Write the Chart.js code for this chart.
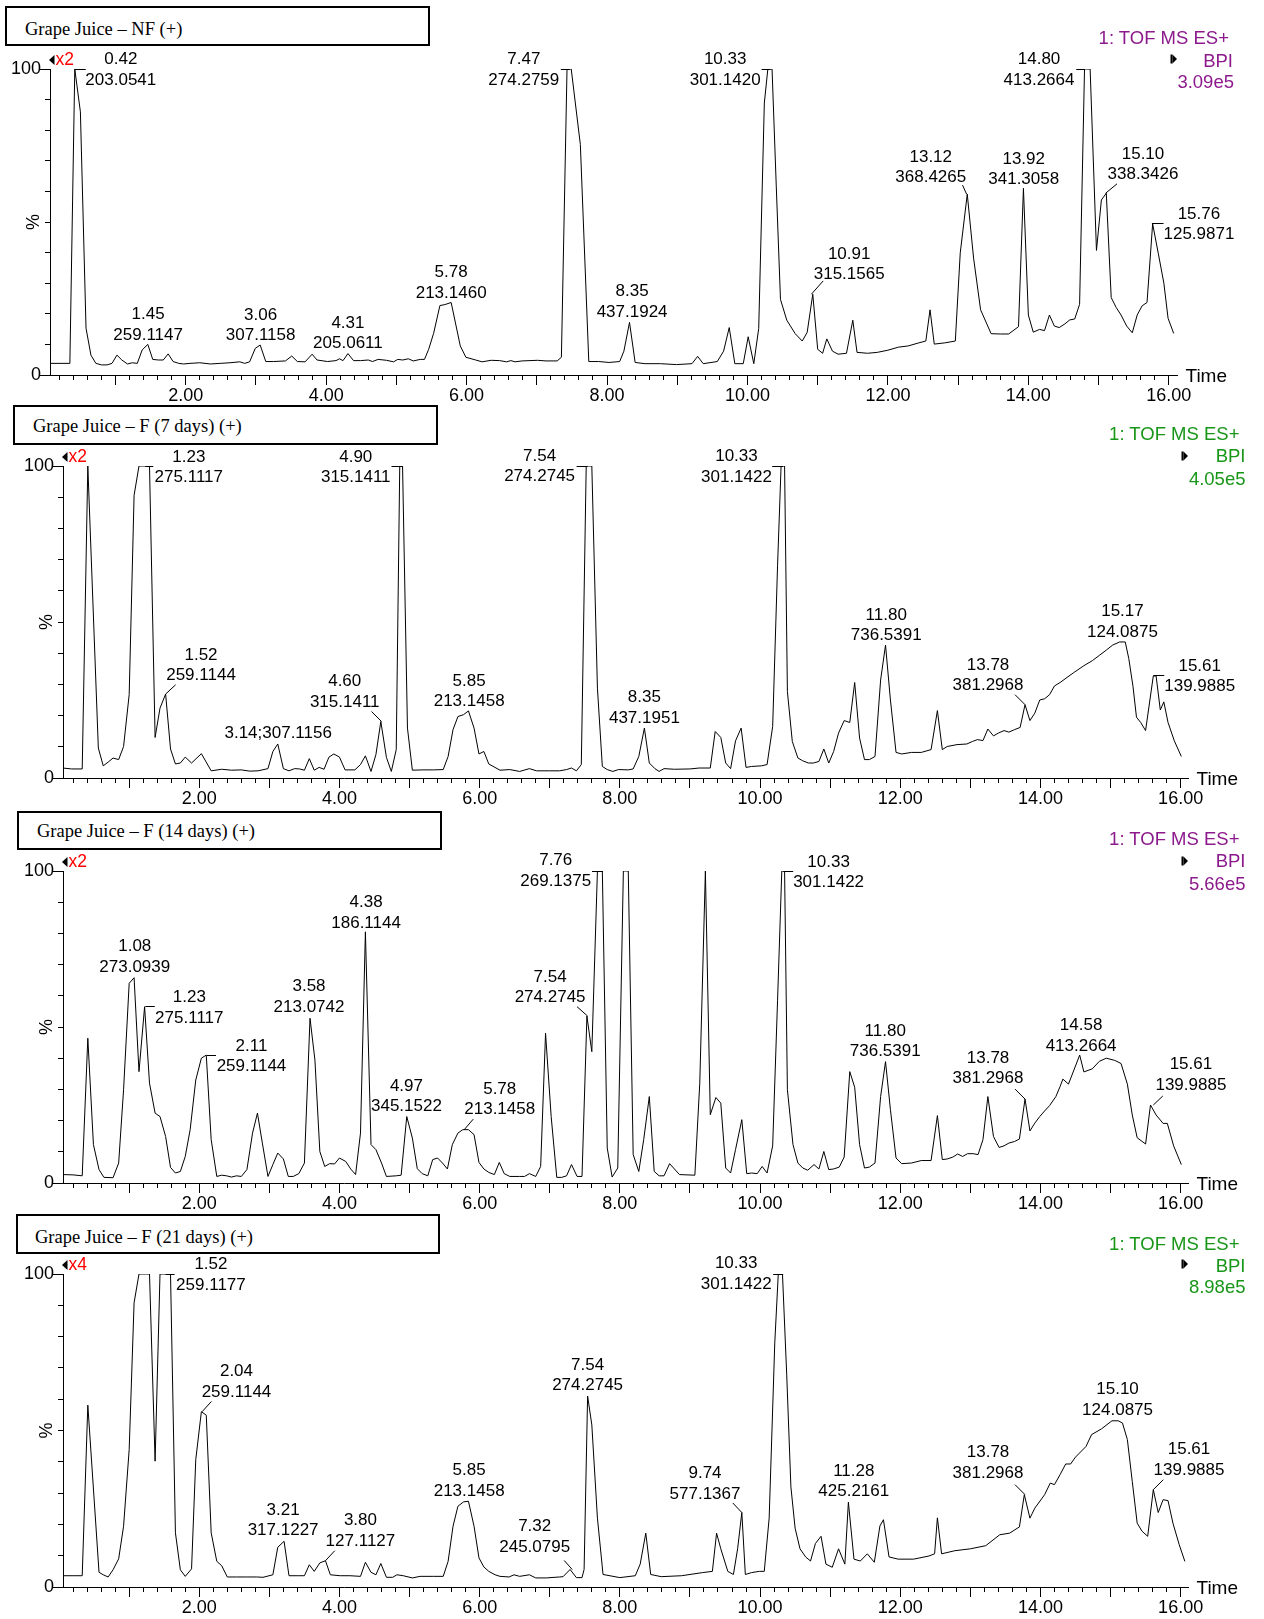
<!DOCTYPE html>
<html><head><meta charset="utf-8">
<script src="https://cdn.jsdelivr.net/npm/chart.js"></script>
<style>
html,body{margin:0;padding:0;background:#fff;}
body{width:1264px;height:1619px;position:relative;overflow:hidden;font-family:"Liberation Sans",Arial,sans-serif;}
canvas{position:absolute;left:0;}
.tbox{position:absolute;border:2px solid #000;box-sizing:border-box;background:#fff;font-family:"Liberation Serif","Times New Roman",serif;font-size:18.5px;color:#000;}
.tbox span{position:absolute;white-space:nowrap;line-height:20px;}
.rl{position:absolute;font-size:18.5px;line-height:21px;text-align:right;white-space:nowrap;}
.pu{color:#8c1a8c;}
.gr{color:#189618;}
</style></head><body>
<canvas id="c1" width="1264" height="415" style="top:0px"></canvas>
<canvas id="c2" width="1264" height="418" style="top:400px"></canvas>
<canvas id="c3" width="1264" height="418" style="top:805px"></canvas>
<canvas id="c4" width="1264" height="411" style="top:1208px"></canvas>

<div class="tbox" style="left:5px;top:6px;width:425px;height:40px"><span style="left:18px;top:11px">Grape Juice – NF (+)</span></div>
<div class="tbox" style="left:13px;top:405px;width:425px;height:40px"><span style="left:18px;top:9px">Grape Juice – F (7 days) (+)</span></div>
<div class="tbox" style="left:17px;top:811px;width:425px;height:39px"><span style="left:18px;top:8px">Grape Juice – F (14 days) (+)</span></div>
<div class="tbox" style="left:16px;top:1214px;width:424px;height:40px"><span style="left:17px;top:11px">Grape Juice – F (21 days) (+)</span></div>

<div class="rl pu" style="right:35px;top:27px">1: TOF MS ES+</div>
<div class="rl pu" style="right:31px;top:49.5px">BPI</div>
<div class="rl pu" style="right:30px;top:71px">3.09e5</div>

<div class="rl gr" style="right:24.5px;top:423px">1: TOF MS ES+</div>
<div class="rl gr" style="right:18.5px;top:445px">BPI</div>
<div class="rl gr" style="right:18.5px;top:467.5px">4.05e5</div>

<div class="rl pu" style="right:24.5px;top:828px">1: TOF MS ES+</div>
<div class="rl pu" style="right:18.5px;top:850px">BPI</div>
<div class="rl pu" style="right:18.5px;top:872.5px">5.66e5</div>

<div class="rl gr" style="right:24.5px;top:1233px">1: TOF MS ES+</div>
<div class="rl gr" style="right:18.5px;top:1254.5px">BPI</div>
<div class="rl gr" style="right:18.5px;top:1276px">8.98e5</div>

<script>
// ---------------- DATA ----------------
// Panel 1: Grape Juice – NF (+)
const nfTime = [
 0.07,0.35,0.42,0.50,0.58,0.65,0.72,0.80,0.88,0.95,
 1.02,1.09,1.17,1.24,1.31,1.38,1.46,1.53,1.61,1.68,
 1.75,1.82,1.90,1.97,2.06,2.20,2.35,2.49,2.63,2.77,
 2.84,2.91,2.99,3.06,3.14,3.25,3.42,3.51,3.59,3.70,
 3.80,3.87,4.02,4.14,4.19,4.24,4.31,4.39,4.49,4.60,
 4.66,4.74,4.86,4.96,5.02,5.09,5.17,5.24,5.34,5.40,
 5.46,5.53,5.62,5.69,5.78,5.91,5.99,6.13,6.22,6.35,
 6.47,6.57,6.63,6.69,6.79,7.01,7.13,7.29,7.35,7.43,
 7.49,7.62,7.74,7.88,8.03,8.18,8.24,8.32,8.40,8.54,
 8.76,8.99,9.21,9.29,9.37,9.57,9.66,9.74,9.82,9.94,
 10.01,10.09,10.16,10.24,10.29,10.35,10.41,10.47,10.56,10.68,
 10.78,10.85,10.93,11.00,11.07,11.13,11.21,11.29,11.41,11.50,
 11.56,11.71,11.85,12.00,12.15,12.29,12.44,12.54,12.60,12.66,
 12.81,12.96,13.03,13.13,13.22,13.32,13.47,13.60,13.72,13.86,
 13.93,14.00,14.07,14.16,14.23,14.30,14.37,14.44,14.52,14.59,
 14.66,14.73,14.80,14.88,14.97,15.04,15.11,15.18,15.25,15.32,
 15.40,15.48,15.55,15.62,15.69,15.77,15.85,15.93,15.99,16.07];
const nfValue = [
 3.8,3.8,100,86,15.3,6.5,3.8,3.3,3.3,3.8,
 6.5,4.9,3.6,4.0,3.8,8.2,10.0,5.1,4.9,4.9,
 6.9,4.4,3.8,3.6,3.8,4.0,3.6,3.8,4.0,4.3,
 3.8,4.3,8.7,9.8,4.4,4.4,4.6,6.2,4.4,4.3,
 6.8,4.9,4.4,4.7,5.3,4.7,7.0,4.7,4.7,4.9,
 4.4,5.1,4.8,4.3,5.1,4.9,5.3,4.6,5.1,5.1,
 8.4,13.6,22.7,23.0,23.7,9.5,5.8,4.9,4.3,4.8,
 4.7,4.3,4.7,4.3,4.6,4.8,4.6,4.6,5.8,100,
 100,75.3,4.4,4.4,4.1,4.4,7.8,17.2,4.1,3.7,
 3.7,3.4,3.7,6.1,3.7,4.4,7.8,15.5,3.7,3.7,
 12.5,3.7,15.2,88.9,100,100,61.8,24.7,17.9,13.5,
 11.1,13.9,26.4,8.4,7.1,11.8,7.8,6.8,7.1,17.9,
 7.4,7.1,7.4,8.1,9.1,9.5,10.5,11.1,21.3,10.1,
 10.5,11.1,39.9,59.1,38.2,21.3,13.5,13.4,13.4,15.8,
 61,19.6,14,14.9,14.5,19.6,16,15.5,16.7,18,
 18.3,23.1,100,100,40.7,57.2,59.4,25.3,22.1,19.6,
 16,13.8,19.6,22.6,23.7,49.4,39.8,30,18.5,13.6];
const nfPeakRT = ['0.42','1.45','3.06','4.31','5.78','7.47','8.35','10.33','10.91','13.12','13.92','14.80','15.10','15.76'];
const nfPeakMZ = ['203.0541','259.1147','307.1158','205.0611','213.1460','274.2759','437.1924','301.1420','315.1565','368.4265','341.3058','413.2664','338.3426','125.9871'];

// Panel 2: Grape Juice – F (7 days) (+)
const d7Time = [
 0.05,0.18,0.33,0.41,0.56,0.63,0.70,0.77,0.85,0.92,
 1.00,1.07,1.14,1.29,1.37,1.44,1.52,1.59,1.66,1.73,
 1.80,1.89,2.03,2.17,2.32,2.46,2.60,2.72,2.84,2.98,
 3.05,3.12,3.20,3.28,3.36,3.43,3.50,3.57,3.64,3.71,
 3.78,3.85,3.92,4.00,4.08,4.22,4.30,4.37,4.45,4.52,
 4.59,4.67,4.74,4.81,4.86,4.90,4.97,5.04,5.19,5.34,
 5.48,5.55,5.62,5.69,5.77,5.84,5.92,5.99,6.06,6.13,
 6.29,6.43,6.57,6.71,6.81,7.00,7.14,7.24,7.31,7.38,
 7.45,7.52,7.60,7.68,7.75,7.82,7.90,7.98,8.12,8.19,
 8.27,8.35,8.42,8.50,8.56,8.63,8.78,9.00,9.13,9.29,
 9.36,9.44,9.51,9.58,9.65,9.73,9.80,9.88,10.02,10.10,
 10.18,10.25,10.30,10.35,10.39,10.46,10.54,10.61,10.69,10.76,
 10.84,10.91,10.98,11.05,11.12,11.20,11.28,11.35,11.42,11.49,
 11.56,11.64,11.72,11.79,11.86,11.94,12.02,12.16,12.30,12.44,
 12.53,12.60,12.67,12.81,12.95,13.03,13.10,13.18,13.25,13.33,
 13.40,13.48,13.55,13.63,13.71,13.78,13.85,13.92,13.99,14.06,
 14.13,14.20,14.28,14.47,14.62,14.74,14.84,14.94,15.03,15.13,
 15.21,15.26,15.32,15.37,15.43,15.50,15.61,15.65,15.71,15.76,
 15.82,15.91,16.01];
const d7Value = [
 3.2,2.9,2.9,100,9.6,3.9,5.1,6.4,5.9,10.1,
 26.7,90.6,100,100,13,22.4,26.9,9.3,4.5,4.8,
 6.7,4.8,7.8,2.3,2.8,2.5,2.6,2.2,2.3,3.0,
 8.5,10.9,3.0,2.3,3.0,2.9,2.5,6.2,2.5,3.4,
 2.8,6.7,7.7,6.7,2.6,2.6,4.3,7.1,2.1,7.5,
 18.1,6.6,2.1,9.1,100,100,16,2.5,2.6,2.6,
 2.7,6.9,15.5,19.7,20.3,21.5,16,7.7,8.5,4.5,
 2.5,2.7,2.1,3.0,2.3,2.3,2.3,2.7,3.2,2.3,
 4.3,100,100,28.8,3.7,2.7,2.1,2.7,2.6,2.9,
 6.9,16,4.8,3.0,2.1,3.0,2.8,2.9,3.2,3.2,
 14.9,13,4.8,3.0,11.9,16,3.4,3.7,3.9,4.3,
 16.5,68.2,100,100,27.7,11.7,6.4,5.5,4.8,4.8,
 5.3,9.3,4.8,8.5,14.4,18.4,17.8,30.6,12.8,5.9,
 5.9,6.9,31.4,42.6,25,8.2,7.7,8.2,8.2,9.1,
 21.6,9.1,10.1,10.7,10.9,11.7,12.3,12,15.7,13.5,
 14.4,15.2,14.7,15.5,16.2,23.5,18.4,20.8,25,25.4,
 26.7,29.5,30.6,33.7,36,37.6,39.3,41,42.6,43.6,
 43.6,38.3,29.4,19.5,17.8,15.2,32.7,32.7,21.8,24.4,
 17.8,11.9,6.9];
const d7PeakRT = ['1.23','1.52','3.14;307.1156','4.60','4.90','5.85','7.54','8.35','10.33','11.80','13.78','15.17','15.61'];
const d7PeakMZ = ['275.1117','259.1144','','315.1411','315.1411','213.1458','274.2745','437.1951','301.1422','736.5391','381.2968','124.0875','139.9885'];

// Panel 3: Grape Juice – F (14 days) (+)
const d14Time = [
 0.05,0.20,0.33,0.41,0.49,0.57,0.64,0.77,0.85,0.92,
 1.00,1.07,1.14,1.22,1.29,1.37,1.44,1.52,1.59,1.66,
 1.73,1.80,1.87,1.95,2.03,2.10,2.17,2.25,2.32,2.39,
 2.46,2.53,2.60,2.68,2.76,2.83,2.90,2.98,3.05,3.12,
 3.20,3.27,3.34,3.42,3.50,3.58,3.65,3.72,3.79,3.86,
 3.93,4.00,4.09,4.16,4.23,4.30,4.37,4.45,4.52,4.60,
 4.67,4.81,4.88,4.96,5.04,5.11,5.18,5.26,5.33,5.40,
 5.47,5.54,5.61,5.69,5.76,5.84,5.92,5.99,6.06,6.13,
 6.21,6.28,6.35,6.43,6.57,6.64,6.71,6.80,6.87,6.94,
 7.02,7.10,7.17,7.24,7.31,7.39,7.46,7.53,7.60,7.68,
 7.75,7.82,7.89,7.97,8.05,8.12,8.19,8.27,8.34,8.42,
 8.49,8.56,8.63,8.71,8.85,9.07,9.14,9.22,9.29,9.37,
 9.44,9.51,9.58,9.65,9.74,9.81,9.88,9.96,10.03,10.10,
 10.18,10.25,10.31,10.35,10.39,10.47,10.54,10.61,10.68,10.77,
 10.84,10.91,10.98,11.05,11.13,11.20,11.28,11.35,11.42,11.49,
 11.56,11.64,11.72,11.79,11.86,11.94,12.02,12.16,12.30,12.44,
 12.53,12.60,12.67,12.75,12.82,12.89,12.96,13.04,13.11,13.18,
 13.25,13.33,13.41,13.48,13.55,13.63,13.70,13.78,13.85,13.92,
 13.99,14.06,14.13,14.22,14.28,14.32,14.40,14.56,14.62,14.74,
 14.84,14.94,15.06,15.15,15.24,15.31,15.38,15.50,15.57,15.65,
 15.75,15.81,15.90,16.01];
const d14Value = [
 2.7,2.6,2.3,46.4,12.3,4.3,1.8,1.7,6.4,29.9,
 64,65.8,35.7,56.5,32,22.4,21.3,14.9,5,3.2,
 3.7,8.5,17.1,33,40,41,13.9,2.1,2.5,2.3,
 1.9,2.3,2.1,4.3,16,22.4,12.8,2.1,5.9,9.6,
 7.7,2.1,2.1,3.0,6.4,52.8,39.4,10.1,5.3,6.2,
 6.1,8,6.9,4.5,2.7,16,80.5,12.3,10.7,6.4,
 2.1,2.3,2.5,21.3,14.4,4.6,3.0,2.3,7.5,8,
 6.4,4.5,12.3,16,17.1,17.1,15.5,6.6,4.5,3.4,
 2.7,6.6,3.0,2.1,2.1,2.1,3.0,2.1,5.3,48,
 21.3,1.8,1.8,2.3,5.9,2.1,2.1,53.5,42.1,100,
 100,11.2,1.9,4.8,100,100,9.1,3.7,13.9,27.7,
 3.7,2.3,2.3,6.2,2.7,2.5,32,100,21.9,27.4,
 25.6,4.8,3.2,10.7,20.3,3.0,3.2,3.0,5.3,3.2,
 11.9,58.6,100,100,29.9,12.3,6.4,4.8,4.1,5.9,
 4.5,10.1,4.3,4.5,5.1,8.3,35.7,30.7,12.3,4.8,
 5.1,6.4,27.7,38.9,23.5,8,6.2,6.4,7.2,7.2,
 21.6,7.5,7.7,8.3,9.3,8.5,9.4,9.4,9.1,13.9,
 27.7,14.9,11.4,11.9,12.8,13.3,14.1,26.9,16.7,19.2,
 21.3,23.1,24.8,27.7,30.9,33.3,31.7,41,35.6,36.6,
 39,40,39.3,38.3,31.7,21.8,14.5,12.5,25,21.8,
 19.1,19.1,11.9,5.9];
const d14PeakRT = ['1.08','1.23','2.11','3.58','4.38','4.97','5.78','7.54','7.76','10.33','11.80','13.78','14.58','15.61'];
const d14PeakMZ = ['273.0939','275.1117','259.1144','213.0742','186.1144','345.1522','213.1458','274.2745','269.1375','301.1422','736.5391','381.2968','413.2664','139.9885'];

// Panel 4: Grape Juice – F (21 days) (+)
const d21Time = [
 0.05,0.20,0.33,0.41,0.57,0.63,0.70,0.77,0.85,0.92,
 1.00,1.07,1.14,1.29,1.37,1.44,1.59,1.66,1.73,1.80,
 1.89,1.95,2.03,2.10,2.17,2.25,2.32,2.40,2.53,2.67,
 2.82,2.91,3.05,3.12,3.21,3.28,3.42,3.50,3.57,3.64,
 3.72,3.80,3.87,4.01,4.15,4.30,4.37,4.45,4.52,4.59,
 4.67,4.76,4.82,4.91,5.04,5.15,5.34,5.48,5.55,5.62,
 5.69,5.77,5.84,5.92,5.99,6.06,6.13,6.22,6.29,6.42,
 6.49,6.57,6.71,6.80,6.95,7.14,7.19,7.29,7.38,7.46,
 7.49,7.54,7.60,7.68,7.76,8.00,8.22,8.29,8.37,8.44,
 8.59,8.88,9.18,9.32,9.38,9.44,9.54,9.62,9.68,9.74,
 9.79,9.88,9.99,10.06,10.13,10.21,10.26,10.32,10.38,10.44,
 10.50,10.57,10.65,10.72,10.79,10.87,10.94,11.03,11.12,11.21,
 11.26,11.34,11.43,11.53,11.63,11.71,11.76,11.84,11.97,12.19,
 12.41,12.49,12.53,12.59,12.78,13.00,13.22,13.42,13.56,13.70,
 13.77,13.85,13.92,14.06,14.14,14.20,14.28,14.36,14.43,14.50,
 14.65,14.73,14.87,15.02,15.11,15.17,15.24,15.31,15.38,15.45,
 15.53,15.61,15.68,15.75,15.82,15.89,15.98,16.06];
const d21Value = [
 3.6,3.6,3.6,58.1,4.7,3.9,3.2,5.5,9.0,19.4,
 43.9,90.8,100,100,40.2,100,100,17.3,5.5,3.4,
 5.8,40.7,56,54.9,17.3,8.2,6.8,3.2,3.2,3.2,
 3.2,3.1,3.9,12.7,14.6,3.6,3.6,3.6,7.1,5,
 7.7,8.4,3.9,3.6,3.6,3.4,7.9,4.7,3.9,7.5,
 3.1,3.1,3.9,3.6,2.9,3.4,3.4,3.4,8.2,19.4,
 25.8,27.2,27.4,19.4,9.3,6.4,5,3.9,3.4,3.2,
 3.9,3.4,3.9,2.9,2.9,3.2,3.3,5.6,3.0,3.0,
 5.6,61,51.8,22,4,3,3.6,7.3,17.2,4,
 3.3,3.6,4.6,5,17.2,12.2,5,4,12.2,23.8,
 4,4.6,5,5,22,78,100,100,68,32,
 18.8,12.2,9.6,8.3,13.9,16.2,7.3,6.3,12.2,7.3,
 27.1,8.9,8.3,10.6,7.9,19.5,21.5,9.6,8.9,8.9,
 9.9,10.6,22.1,10.6,11.6,12.2,13.2,16.7,17.2,19.2,
 29.5,22,25.2,29.5,33.2,32.7,35.9,39.3,39.3,41.5,
 44.9,48.7,50.5,53.1,53.1,52.4,47.1,33.7,20.4,17.8,
 16.2,31.1,23.8,27.9,27.6,20.4,13.5,8.2];
const d21PeakRT = ['1.52','2.04','3.21','3.80','5.85','7.32','7.54','9.74','10.33','11.28','13.78','15.10','15.61'];
const d21PeakMZ = ['259.1177','259.1144','317.1227','127.1127','213.1458','245.0795','274.2745','577.1367','301.1422','425.2161','381.2968','124.0875','139.9885'];

const yTickLabels = ['0', '100'];
const xTickLabelStep = 2; // minutes between labelled ticks

// ---------------- LAYOUT (label offsets from apex: dx, dy, leader dx, leader dy) ----------------
const nfLabelPos = [[46,-9.3,11,0],[1,-30],[0.5,-30],[0,-30.4],[0,-30],[-46,-9.3,-9,0],[0.5,-31],[-45.5,-9.3,-9,0],[37.8,-40.3,11.8,-13.3],[-35.8,-37.3,-4,-9],[1,-29.5],[-45.5,-9.3,-8.3,0],[37.4,-39.1,11.4,-9.4],[47,-9.7,11.6,0]];
const d7LabelPos = [[43.5,-9,8,0],[35.4,-39.2,10,-9.3],[-1,-11],[-36.8,-40,-10,-10],[-46.8,-9,-11,0],[0,-30],[-48,-10,-11,0],[0,-30.6],[-46.7,-9.5,-11,0],[0,-30],[-37,-39.8,-10,-10],[0,-30.6],[46.4,-10,11,0]];
const d14LabelPos = [[0,-31],[44,-9,9.5,0],[44.5,-9,9,0],[-1,-31.6],[0,-29.4],[-1,-30.7],[35.5,-40.8,9,-10.5],[-37.5,-39.1,-10.6,-9.4],[-47.3,-10.5,-11,0],[45.4,-9,10,0],[-1,-30.7],[-37,-41,-10,-10],[0,-29.6],[37.6,-40.4,9.5,-9]];
const d21LabelPos = [[45.3,-9.3,9,0],[34.4,-40.3,9.4,-10.3],[-1,-31],[35,-40.3,9.3,-10],[0,-30.8],[-37.5,-43,-8,-9],[0,-31.2],[-36.8,-39.1,-9,-9.5],[-47,-10.3,-10,0],[4,-31],[-37,-42,-10,-10],[0,-31],[35.7,-40,10,-10]];

const FONT = '"Liberation Sans", Arial, sans-serif';
Chart.defaults.font.family = FONT;
Chart.defaults.color = '#000';

const panels = [
 {id:'c1', canvasTop:0,   left:50, right:1177, top:69,  bottom:375,  xh:40, xmin:0.067, xmax:16.117, time:nfTime,  value:nfValue,  rt:nfPeakRT,  mz:nfPeakMZ,  pos:nfLabelPos,  mag:'x2'},
 {id:'c2', canvasTop:400, left:63, right:1188, top:466, bottom:778,  xh:40, xmin:0.056, xmax:16.105, time:d7Time,  value:d7Value,  rt:d7PeakRT,  mz:d7PeakMZ,  pos:d7LabelPos,  mag:'x2'},
 {id:'c3', canvasTop:805, left:63, right:1188, top:871, bottom:1183, xh:40, xmin:0.056, xmax:16.105, time:d14Time, value:d14Value, rt:d14PeakRT, mz:d14PeakMZ, pos:d14LabelPos, mag:'x2'},
 {id:'c4', canvasTop:1208,left:63, right:1188, top:1274,bottom:1587, xh:32, xmin:0.056, xmax:16.105, time:d21Time, value:d21Value, rt:d21PeakRT, mz:d21PeakMZ, pos:d21LabelPos, mag:'x4'}
];

function apexValue(ts, vs, t) {
  let best = -Infinity;
  for (let i = 0; i < ts.length; i++) {
    if (Math.abs(ts[i] - t) <= 0.055) best = Math.max(best, vs[i]);
    if (i > 0 && ts[i-1] <= t && ts[i] >= t) {
      const f = (t - ts[i-1]) / (ts[i] - ts[i-1]);
      best = Math.max(best, vs[i-1] + f * (vs[i] - vs[i-1]));
    }
  }
  return best;
}
const al = v => Math.round(v - 0.5) + 0.5;

function decor(p) {
  return {
    id: 'decor',
    afterDraw(chart) {
      const {ctx, chartArea: a, scales: {x, y}} = chart;
      ctx.save();
      ctx.strokeStyle = '#000'; ctx.lineWidth = 1;
      ctx.beginPath();
      for (let m = 1; m <= 16; m++) {
        const px = al(x.getPixelForValue(m));
        ctx.moveTo(px, a.bottom); ctx.lineTo(px, a.bottom + 10);
      }
      [0, 100].forEach(v => { const py = al(y.getPixelForValue(v)); ctx.moveTo(a.left - 10, py); ctx.lineTo(a.left, py); });
      ctx.stroke();

      // peak annotations
      ctx.font = '17px ' + FONT;
      ctx.fillStyle = '#000'; ctx.textAlign = 'center'; ctx.textBaseline = 'middle';
      p.rt.forEach((rt, i) => {
        const t = parseFloat(rt);
        const v = apexValue(p.time, p.value, t);
        const ax = x.getPixelForValue(t), ay = y.getPixelForValue(v);
        const o = p.pos[i];
        ctx.fillText(rt, ax + o[0], ay + o[1]);
        if (p.mz[i]) ctx.fillText(p.mz[i], ax + o[0], ay + o[1] + 20.5);
        if (o.length > 2) {
          ctx.beginPath();
          if (o[3] === 0) { const yy = al(ay); ctx.moveTo(ax, yy); ctx.lineTo(ax + o[2], yy); }
          else { ctx.moveTo(ax, ay); ctx.lineTo(ax + o[2], ay + o[3]); }
          ctx.stroke();
        }
      });

      // % axis title
      ctx.save();
      ctx.font = '18px ' + FONT;
      ctx.translate(a.left - 15.5, (a.top + a.bottom) / 2);
      ctx.rotate(-Math.PI / 2);
      ctx.fillText('%', 0, 0);
      ctx.restore();

      // Time label
      ctx.font = '19px ' + FONT; ctx.textAlign = 'left';
      ctx.fillText('Time', a.right + 8.5, a.bottom + 1.5);

      // magnification indicator
      const my = a.top - 9;
      ctx.beginPath();
      ctx.moveTo(a.left - 1, my); ctx.lineTo(a.left + 4.5, my - 5); ctx.lineTo(a.left + 4.5, my + 5); ctx.closePath();
      ctx.fill();
      ctx.fillStyle = '#ff0000'; ctx.font = '17.5px ' + FONT;
      ctx.fillText(p.mag, a.left + 5.5, my);

      // BPI marker
      const bx = a.right - 3, by = a.top - 10;
      ctx.fillStyle = '#000';
      ctx.fillRect(bx - 3.5, by - 4.5, 2, 9);
      ctx.beginPath(); ctx.moveTo(bx - 1.5, by - 4.5); ctx.lineTo(bx + 3, by); ctx.lineTo(bx - 1.5, by + 4.5); ctx.closePath(); ctx.fill();
      ctx.restore();
    }
  };
}

panels.forEach(p => {
  const cv = document.getElementById(p.id);
  new Chart(cv.getContext('2d'), {
    type: 'line',
    data: { datasets: [{
      data: p.time.map((t, i) => ({x: t, y: p.value[i]})),
      borderColor: '#000', borderWidth: 1, pointRadius: 0, tension: 0, fill: false,
      borderJoinStyle: 'round'
    }]},
    options: {
      responsive: false, animation: false, devicePixelRatio: 1,
      layout: { padding: { left: 0, right: 1264 - p.right, top: p.top - p.canvasTop, bottom: 0 } },
      plugins: { legend: { display: false }, tooltip: { enabled: false } },
      scales: {
        x: {
          type: 'linear', min: p.xmin, max: p.xmax,
          afterFit(s) { s.height = p.xh; },
          grid: { drawOnChartArea: false, drawTicks: true, tickLength: 5, color: '#000', lineWidth: 1 },
          border: { display: true, color: '#000', width: 1 },
          ticks: {
            stepSize: 0.2, autoSkip: false, includeBounds: false, maxRotation: 0, minRotation: 0, padding: 5,
            color: '#000', font: { size: 18, lineHeight: 1.2 },
            callback: v => { const r = Math.round(v); return (Math.abs(v - r) < 1e-6 && r > 0 && r % xTickLabelStep === 0) ? r.toFixed(2) : ''; }
          }
        },
        y: {
          min: 0, max: 100,
          afterFit(s) { s.width = p.left; },
          grid: { drawOnChartArea: false, drawTicks: true, tickLength: 5, color: '#000', lineWidth: 1 },
          border: { display: true, color: '#000', width: 1 },
          ticks: { stepSize: 10, autoSkip: false, padding: 4, color: '#000', font: { size: 18 },
            callback: v => yTickLabels.includes(String(v)) ? String(v) : '' }
        }
      }
    },
    plugins: [decor(p)]
  });
});
</script>
</body></html>
